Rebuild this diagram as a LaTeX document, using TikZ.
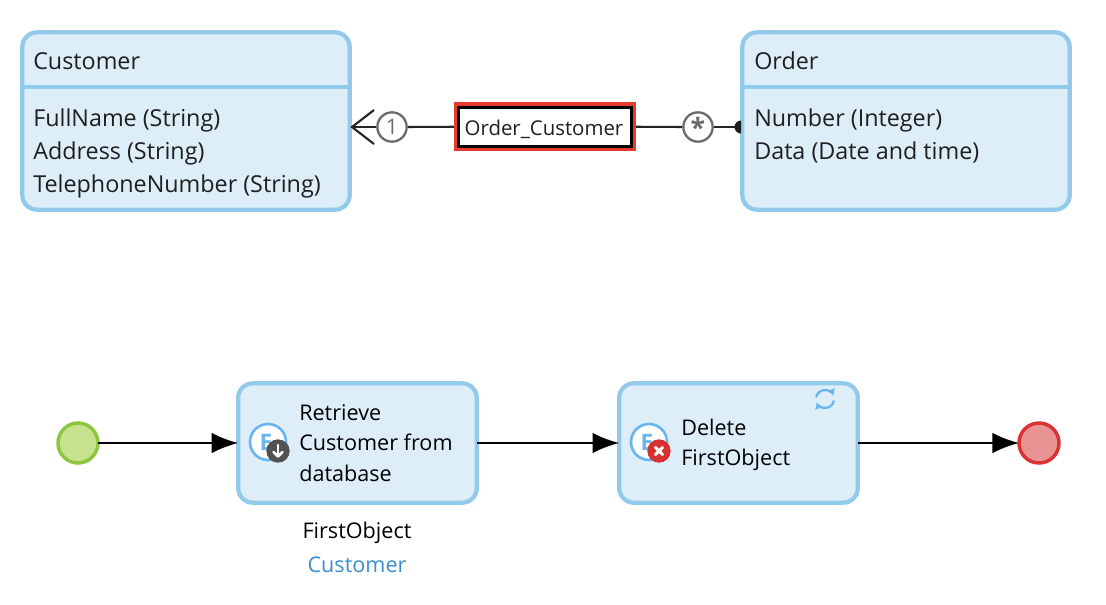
\documentclass[tikz,border=0pt]{standalone}
\usepackage{fontspec}
\setmainfont{Open Sans}
\usetikzlibrary{arrows.meta}
\definecolor{boxfill}{HTML}{DDEEF9}
\definecolor{boxline}{HTML}{92CAEC}
\definecolor{iconblue}{HTML}{6CB6F0}
\definecolor{linkblue}{HTML}{3A8FD0}
\definecolor{mult}{HTML}{6A6A6A}
\definecolor{selred}{HTML}{E83A30}
\definecolor{startline}{HTML}{8CC63E}
\definecolor{startfill}{HTML}{C5E38C}
\definecolor{stopline}{HTML}{DC3232}
\definecolor{stopfill}{HTML}{E89494}
\definecolor{delred}{HTML}{D63030}
\tikzset{
  panel/.style={draw=boxline,fill=boxfill,line width=3.2pt,rounded corners=11pt,outer sep=0pt,inner sep=0pt},
  txt/.style={inner sep=0pt,anchor=base west,font=\fontsize{17.5}{20}\selectfont,text=black!88},
  acttxt/.style={inner sep=0pt,anchor=base west,font=\fontsize{16.2}{20}\selectfont,text=black},
  multc/.style={circle,draw=mult,fill=white,line width=1.7pt,minimum size=22pt,inner sep=0pt,text=mult,font=\fontsize{16}{16}\selectfont},
  flow/.style={draw=black,line width=1.5pt,-{Latex[length=20pt,width=15.5pt]}},
  conn/.style={draw=black!85,line width=1.6pt},
  ent/.style={circle,draw=iconblue,fill=white,line width=2pt,minimum size=27pt,inner sep=0pt},
  badge/.style={circle,minimum size=17.5pt,inner sep=0pt},
  evt/.style={circle,line width=2.6pt,minimum size=30pt,inner sep=0pt,outer sep=0pt},
}
\begin{document}
\begin{tikzpicture}[x=0.75pt,y=-0.75pt]
\useasboundingbox (0,0) rectangle (1106,604);
\fill[white] (0,0) rectangle (1106,604);
% entities
\node[panel,minimum width=245.5pt,minimum height=133pt] (cust) at (186,121) {};
\draw[boxline,line width=3.2pt] (22,87) -- (350,87);
\node[txt] (c0) at (33,69) {Customer};
\node[txt] (c1) at (33,126) {FullName (String)};
\node[txt] (c2) at (33,159) {Address (String)};
\node[txt] (c3) at (33,192) {TelephoneNumber (String)};
\node[panel,minimum width=245.5pt,minimum height=133pt] (order) at (906,121) {};
\draw[boxline,line width=3.2pt] (742,87) -- (1070,87);
\node[txt] (o0) at (754,69) {Order};
\node[txt] (o1) at (754,126) {Number (Integer)};
\node[txt] (o2) at (754,159) {Data (Date and time)};
% association
\coordinate (ap) at (352,127);
\coordinate (endc) at (741,127);
\coordinate (a1) at (374,110);
\coordinate (a2) at (374,144);
\node[draw=selred,line width=3.6pt,minimum width=133pt,minimum height=33pt,inner sep=0pt] (sel) at (545,126.5) {};
\node[draw=black,fill=white,line width=2.2pt,minimum width=129.5pt,minimum height=29pt,inner sep=0pt] (assoc) at (545,127) {};
\node[multc] (m1) at (392,127) {1};
\node[multc] (m2) at (698,127) {\raisebox{-3.5pt}{\fontsize{20}{20}\selectfont\bfseries *}};
\draw[conn] (ap) -- (m1);
\draw[conn] (m1) -- (sel);
\draw[conn] (sel) -- (m2);
\draw[conn] (m2) -- (endc);
\draw[conn] (a1) -- (ap) -- (a2);
\fill[black!88] (741,133.5) arc (90:270:6.5) -- cycle;
\node[inner sep=0pt,font=\fontsize{15.3}{16}\selectfont,text=black!88] (assoctext) at (544,129) {Order\_Customer};
% flow
\node[evt,draw=startline,fill=startfill] (start) at (78,443) {};
\node[panel,minimum width=179pt,minimum height=89.5pt] (ret) at (357.5,443) {};
\node[panel,minimum width=179pt,minimum height=89.5pt] (del) at (738.5,443) {};
\node[evt,draw=stopline,fill=stopfill] (stop) at (1039,443) {};
\draw[flow] (start) -- (ret);
\draw[flow] (ret) -- (del);
\draw[flow] (del) -- (stop);
\node[ent] (e1) at (268,442) {};
\node[inner sep=0pt,text=iconblue,font=\bfseries\fontsize{17}{17}\selectfont] (e1t) at (266,442) {E};
\node[badge,fill=black!68] (b1) at (278,451) {};
\draw[white,line width=1.9pt,line cap=round] (278,445) -- (278,456);
\draw[white,line width=1.9pt,line cap=round,line join=round] (273.5,452) -- (278,456.5) -- (282.5,452);
\node[acttxt] (r1) at (299,420) {Retrieve};
\node[acttxt] (r2) at (299,450) {Customer from};
\node[acttxt] (r3) at (299,481) {database};
\node[ent] (e2) at (649,442) {};
\node[inner sep=0pt,text=iconblue,font=\bfseries\fontsize{17}{17}\selectfont] (e2t) at (647,442) {E};
\node[badge,fill=delred] (b2) at (659,451) {};
\draw[white,line width=2.2pt,line cap=round] (655.5,447.5) -- (662.5,454.5);
\draw[white,line width=2.2pt,line cap=round] (662.5,447.5) -- (655.5,454.5);
\node[acttxt] (d1) at (681,435) {Delete};
\node[acttxt] (d2) at (681,465) {FirstObject};
% loop icon
\draw[iconblue,line width=1.7pt,-{Latex[length=5pt,width=6.5pt]}] (816.1,397.4) arc (-170:-20:9);
\draw[iconblue,line width=1.7pt,-{Latex[length=5pt,width=6.5pt]}] (833.9,400.6) arc (10:160:9);
\node[acttxt,anchor=base] (v) at (357,538) {FirstObject};
\node[acttxt,anchor=base,text=linkblue] (t) at (357,572) {Customer};
\end{tikzpicture}
\end{document}
